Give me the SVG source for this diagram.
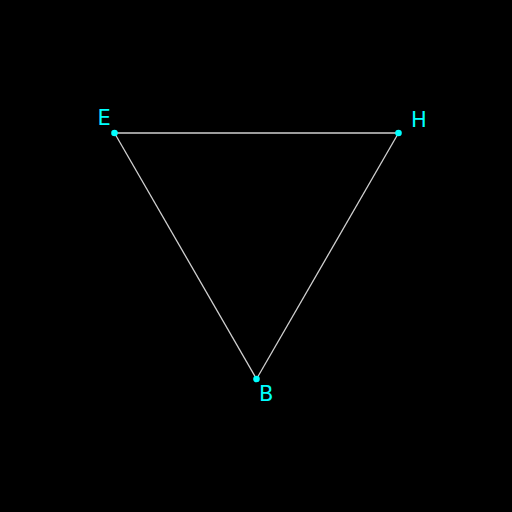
<svg xmlns="http://www.w3.org/2000/svg" width="512" height="512" viewBox="0 0 512 512">
<style>
.edge{stroke:#d0d0d0;stroke-width:1.3;fill:none}
.pt{fill:#00ffff}
.lbl{fill:#00ffff;font-family:"DejaVu Sans",sans-serif;font-size:21px}
</style>
<rect width="512" height="512" fill="#000"/>
<g id="edges">
<line class="edge" x1="114.5" y1="133" x2="398.5" y2="133"/>
<line class="edge" x1="398.5" y1="133" x2="256.5" y2="379"/>
<line class="edge" x1="256.5" y1="379" x2="114.5" y2="133"/>
</g>
<g id="E"><circle class="pt" cx="114.5" cy="133" r="3.3"/><text class="lbl" x="97.5" y="124.5">E</text></g>
<g id="H"><circle class="pt" cx="398.5" cy="133" r="3.3"/><text class="lbl" x="411" y="126.5">H</text></g>
<g id="B"><circle class="pt" cx="256.5" cy="379" r="3.3"/><text class="lbl" x="259" y="401">B</text></g>
</svg>
